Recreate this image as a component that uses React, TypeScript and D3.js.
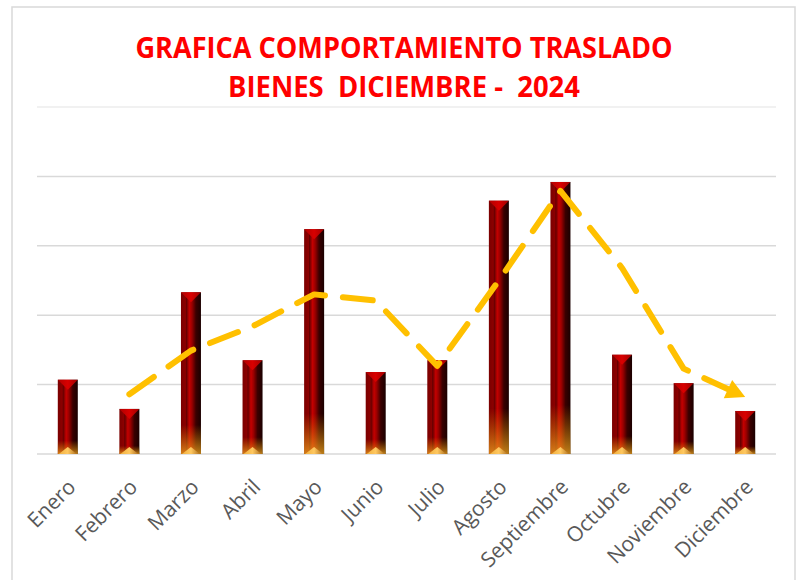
import React from "react";
import * as d3 from "d3";

const months = ["Enero", "Febrero", "Marzo", "Abril", "Mayo", "Junio", "Julio", "Agosto", "Septiembre", "Octubre", "Noviembre", "Diciembre"];
const values = [10.7, 6.5, 23.3, 13.5, 32.4, 11.8, 13.5, 36.5, 39.2, 14.3, 10.2, 6.2];
// moving-average trend line values
const trend: (number | null)[] = [null, 8.6, 14.9, 18.4, 23.0, 22.1, 12.7, 25.0, 37.9, 26.8, 12.3, 8.2];
const yTicks = [0, 10, 20, 30, 40, 50];
const titleLines = ["GRAFICA COMPORTAMIENTO TRASLADO", "BIENES  DICIEMBRE -  2024"];

const W = 796;
const H = 580;
const plotL = 37;
const plotR = 776;
const plotTop = 107;
const plotBottom = 454;
const barW = 20;

export default function App() {
  const x = d3.scaleBand<string>().domain(months).range([plotL, plotR]).paddingInner(0).paddingOuter(0);
  const y = d3.scaleLinear().domain([0, 50]).range([plotBottom, plotTop]);
  const cx = (m: string) => (x(m) as number) + x.bandwidth() / 2;

  const pts: [number, number][] = [];
  trend.forEach((v, i) => {
    if (v != null) pts.push([cx(months[i]), y(v)]);
  });
  const n = pts.length;
  const [ax, ay] = pts[n - 2];
  const [bx, by] = pts[n - 1];
  const len = Math.hypot(bx - ax, by - ay);
  const cut = 14;
  const linePts = pts.slice(0, n - 1).concat([[bx - ((bx - ax) / len) * cut, by - ((by - ay) / len) * cut]]);
  const lineGen = d3.line<[number, number]>().x((d) => d[0]).y((d) => d[1]);
  const ang = (Math.atan2(by - ay, bx - ax) * 180) / Math.PI;

  return (
    <svg width={W} height={H} style={{ position: "absolute", left: 0, top: 0, display: "block" }} xmlns="http://www.w3.org/2000/svg">
      <defs>
        <linearGradient id="barH" x1="0" y1="0" x2="1" y2="0">
          <stop offset="0" stopColor="#7a0000" />
          <stop offset="0.22" stopColor="#8c0000" />
          <stop offset="0.27" stopColor="#650000" />
          <stop offset="0.42" stopColor="#c40000" />
          <stop offset="0.55" stopColor="#9a0000" />
          <stop offset="0.75" stopColor="#3a0000" />
          <stop offset="1" stopColor="#1a0000" />
        </linearGradient>
        <linearGradient id="glow" x1="0" y1="0" x2="0" y2="1">
          <stop offset="0" stopColor="#e09000" stopOpacity="0" />
          <stop offset="0.82" stopColor="#e09000" stopOpacity="0" />
          <stop offset="1" stopColor="#f0a820" stopOpacity="0.75" />
        </linearGradient>
        <linearGradient id="topG" x1="0" y1="0" x2="1" y2="0">
          <stop offset="0" stopColor="#b00000" />
          <stop offset="0.5" stopColor="#d80000" />
          <stop offset="1" stopColor="#a00000" />
        </linearGradient>
        <linearGradient id="botG" x1="0" y1="0" x2="1" y2="0">
          <stop offset="0" stopColor="#f0b040" />
          <stop offset="0.5" stopColor="#ffc860" />
          <stop offset="1" stopColor="#b07020" />
        </linearGradient>
      </defs>
      <rect x={0} y={0} width={W} height={H} fill="#ffffff" />
      <rect x={12} y={7} width={783} height={600} fill="#ffffff" stroke="#d9d9d9" strokeWidth={1.5} />

      {titleLines.map((t, i) => (
        <text
          key={i}
          x={404}
          y={i === 0 ? 58 : 97}
          textAnchor="middle"
          fill="#ff0000"
          fontFamily="'Liberation Sans Narrow', 'Open Sans', sans-serif"
          fontWeight="bold"
          fontSize={28}
          textLength={i === 0 ? 537 : 352}
          lengthAdjust="spacingAndGlyphs"
          style={{ whiteSpace: "pre" }}
        >
          {t}
        </text>
      ))}

      {yTicks.map((t) => (
        <line
          key={t}
          x1={plotL}
          x2={plotR}
          y1={y(t)}
          y2={y(t)}
          stroke={t === 50 ? "#ededed" : "#d9d9d9"}
          strokeWidth={1.5}
        />
      ))}

      {months.map((m, i) => {
        const c = cx(m);
        const x0 = c - barW / 2;
        const yt = y(values[i]);
        const h = plotBottom - yt;
        return (
          <g key={m}>
            <rect x={x0} y={yt} width={barW} height={h} fill="url(#barH)" />
            <rect x={x0} y={yt} width={barW} height={h} fill="url(#glow)" />
            <polygon points={`${x0},${yt} ${x0 + barW},${yt} ${c},${yt + 10}`} fill="url(#topG)" />
            <polygon points={`${x0 + 1},${plotBottom} ${x0 + barW - 1},${plotBottom} ${c},${plotBottom - 7}`} fill="url(#botG)" />
          </g>
        );
      })}

      <path
        d={lineGen(linePts) || ""}
        fill="none"
        stroke="#ffc000"
        strokeWidth={6}
        strokeLinecap="round"
        strokeLinejoin="round"
        strokeDasharray="30 18"
      />
      <polygon
        points="0,0 -19,-10 -19,10"
        fill="#ffc000"
        transform={`translate(${bx},${by}) rotate(${ang})`}
      />

      {months.map((m) => (
        <text
          key={m}
          transform={`translate(${cx(m) + 4},${483}) rotate(-45)`}
          textAnchor="end"
          dy="0.35em"
          fill="#595959"
          fontFamily="'Open Sans', sans-serif"
          fontSize={21}
        >
          {m}
        </text>
      ))}
    </svg>
  );
}
